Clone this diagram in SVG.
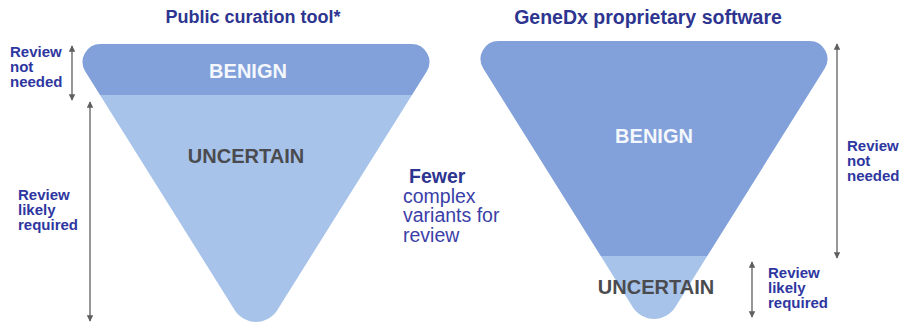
<svg xmlns="http://www.w3.org/2000/svg" width="901" height="324" viewBox="0 0 901 324">
  <style>
    text { font-family: "Liberation Sans", Arial, sans-serif; }
    .title { font-size: 18px; font-weight: bold; fill: #2d3590; text-anchor: middle; }
    .band-label { font-size: 20px; font-weight: bold; text-anchor: middle; }
    .benign-label { fill: #f4f7fc; }
    .uncertain-label { fill: #4a4b4f; }
    .note { font-size: 15px; font-weight: bold; fill: #2e37a0; }
    .mid { font-size: 19.5px; fill: #3a40a8; }
    .mid-strong { font-weight: bold; fill: #2d3590; }
    .benign { fill: #82a0da; }
    .uncertain { fill: #a7c3ea; }
    .span { stroke: #5f5f5f; stroke-width: 1.3; fill: none; marker-start: url(#head); marker-end: url(#head); }
  </style>
  <defs>
    <!-- inverted triangle with rounded corners, top edge at y=0, centred on x=0 -->
    <path id="funnel" d="M -155.5 0 L 155.5 0 A 18 18 0 0 1 170.7 27.5 L 21.2 266.2 A 25 25 0 0 1 -21.2 266.2 L -170.7 27.5 A 18 18 0 0 1 -155.5 0 Z"/>
    <clipPath id="clip-public">
      <use href="#funnel" transform="translate(256 44)"/>
    </clipPath>
    <clipPath id="clip-genedx">
      <use href="#funnel" transform="translate(654 41)"/>
    </clipPath>
    <marker id="head" viewBox="0 0 10 10" refX="9" refY="5" markerWidth="5" markerHeight="5" orient="auto-start-reverse" markerUnits="strokeWidth">
      <path d="M 0 0 L 10 5 L 0 10 Z" fill="#5f5f5f"/>
    </marker>
  </defs>

  <!-- headings -->
  <text class="title" x="253" y="23">Public curation tool*</text>
  <text class="title" x="648" y="24" style="font-size:19.5px">GeneDx proprietary software</text>

  <!-- public tool funnel -->
  <g id="public-benign" clip-path="url(#clip-public)">
    <rect class="benign" x="60" y="40" width="400" height="55"/>
    <text class="band-label benign-label" x="248" y="78">BENIGN</text>
  </g>
  <g id="public-uncertain">
    <rect class="uncertain" x="60" y="95" width="400" height="235" clip-path="url(#clip-public)"/>
    <text class="band-label uncertain-label" x="246" y="163">UNCERTAIN</text>
  </g>

  <!-- GeneDx funnel -->
  <g id="genedx-benign" clip-path="url(#clip-genedx)">
    <rect class="benign" x="460" y="36" width="400" height="220"/>
    <text class="band-label benign-label" x="654" y="143">BENIGN</text>
  </g>
  <g id="genedx-uncertain">
    <rect class="uncertain" x="460" y="256" width="400" height="70" clip-path="url(#clip-genedx)"/>
    <text class="band-label uncertain-label" x="656" y="294">UNCERTAIN</text>
  </g>

  <!-- span arrows -->
  <g id="connectors">
    <line class="span" x1="72" y1="46" x2="72" y2="100"/>
    <line class="span" x1="90" y1="102" x2="90" y2="321"/>
    <line class="span" x1="837" y1="44" x2="837" y2="258"/>
    <line class="span" x1="752" y1="262" x2="752" y2="317"/>
  </g>

  <!-- side notes -->
  <g id="public-note-benign">
    <text class="note" x="10" y="57">Review</text>
    <text class="note" x="10" y="72">not</text>
    <text class="note" x="10" y="87">needed</text>
  </g>
  <g id="public-note-uncertain">
    <text class="note" x="18" y="200">Review</text>
    <text class="note" x="18" y="215">likely</text>
    <text class="note" x="18" y="230">required</text>
  </g>
  <g id="genedx-note-benign">
    <text class="note" x="847" y="151">Review</text>
    <text class="note" x="847" y="166">not</text>
    <text class="note" x="847" y="181">needed</text>
  </g>
  <g id="genedx-note-uncertain">
    <text class="note" x="768" y="278">Review</text>
    <text class="note" x="768" y="293">likely</text>
    <text class="note" x="768" y="308">required</text>
  </g>

  <g id="summary">
    <text class="mid mid-strong" x="409" y="183">Fewer</text>
    <text class="mid" x="403" y="203">complex</text>
    <text class="mid" x="403" y="222">variants for</text>
    <text class="mid" x="403" y="242">review</text>
  </g>
</svg>
